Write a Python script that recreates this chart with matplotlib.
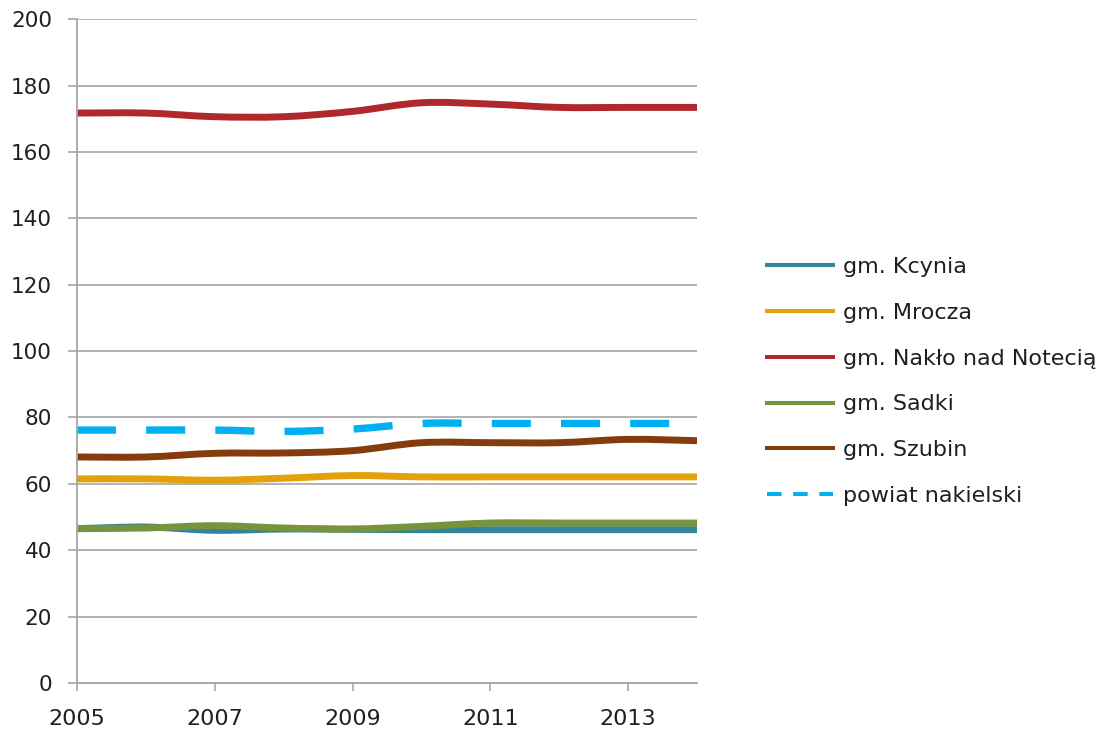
"""Line chart: gminy of powiat nakielski, 2005-2014."""

import matplotlib

matplotlib.use("Agg")
import matplotlib.pyplot as plt
from matplotlib.lines import Line2D
from matplotlib.patches import PathPatch
from matplotlib.path import Path

years = [2005, 2006, 2007, 2008, 2009, 2010, 2011, 2012, 2013, 2014]

kcynia = [46.5, 47.0, 46.0, 46.4, 46.3, 46.2, 46.2, 46.2, 46.2, 46.2]
mrocza = [61.5, 61.5, 61.1, 61.7, 62.5, 62.1, 62.1, 62.1, 62.1, 62.1]
naklo = [171.7, 171.7, 170.6, 170.6, 172.2, 174.8, 174.4, 173.4, 173.4, 173.4]
sadki = [46.5, 46.7, 47.4, 46.7, 46.4, 47.2, 48.2, 48.2, 48.2, 48.2]
szubin = [68.1, 68.1, 69.2, 69.3, 70.0, 72.4, 72.4, 72.4, 73.4, 73.0]
powiat = [76.2, 76.2, 76.2, 75.8, 76.5, 78.2, 78.2, 78.2, 78.2, 78.2]

labels = [
    "gm. Kcynia",
    "gm. Mrocza",
    "gm. Nakło nad Notecią",
    "gm. Sadki",
    "gm. Szubin",
    "powiat nakielski",
]
colors = ["#31849B", "#E3A20C", "#B0282C", "#77933C", "#843C0C", "#00B0F0"]

x_ticks = [2005, 2007, 2009, 2011, 2013]
y_ticks = list(range(0, 201, 20))


def smooth_path(xs, ys):
    """Excel-style smoothed line as cubic Bezier segments."""
    pts = list(zip(xs, ys))
    n = len(pts)
    verts = [pts[0]]
    codes = [Path.MOVETO]
    for i in range(n - 1):
        p0 = pts[max(i - 1, 0)]
        p1 = pts[i]
        p2 = pts[i + 1]
        p3 = pts[min(i + 2, n - 1)]
        c1 = (p1[0] + (p2[0] - p0[0]) / 6, p1[1] + (p2[1] - p0[1]) / 6)
        c2 = (p2[0] - (p3[0] - p1[0]) / 6, p2[1] - (p3[1] - p1[1]) / 6)
        verts += [c1, c2, p2]
        codes += [Path.CURVE4] * 3
    return Path(verts, codes)


plt.rcParams["font.family"] = ["DejaVu Sans"]

fig = plt.figure(figsize=(11.12, 7.35), dpi=100)
ax = fig.add_axes([0.0692, 0.0707, 0.5576, 0.9033])

series = [kcynia, mrocza, naklo, sadki, szubin, powiat]
handles = []
for vals, color, label in zip(series, colors, labels):
    dashed = label.startswith("powiat")
    patch = PathPatch(
        smooth_path(years, vals),
        fill=False,
        edgecolor=color,
        linewidth=5.3 if dashed else 5,
        capstyle="butt",
        joinstyle="round",
        linestyle=(0, (5.3, 4.1)) if dashed else "-",
    )
    ax.add_patch(patch)
    handles.append(
        Line2D(
            [],
            [],
            color=color,
            linewidth=2.9,
            linestyle=(0, (3.6, 2.9)) if dashed else "-",
            label=label,
        )
    )

ax.set_xlim(2005, 2014)
ax.set_ylim(0, 200)
ax.set_xticks(x_ticks)
ax.set_yticks(y_ticks)
ax.grid(axis="y", color="#A6A6A6", linewidth=1.2)
ax.set_axisbelow(True)

for side in ["top", "right"]:
    ax.spines[side].set_visible(False)
for side in ["left", "bottom"]:
    ax.spines[side].set_color("#A6A6A6")
    ax.spines[side].set_linewidth(1.3)

ax.tick_params(axis="y", length=6.5, width=1.2, color="#A6A6A6", labelsize=15.5,
               pad=11.5, labelcolor="#1F1F1F")
ax.tick_params(axis="x", length=5.5, width=1.2, color="#A6A6A6", labelsize=16,
               pad=13, labelcolor="#1F1F1F")

fig.legend(
    handles=handles,
    loc="center left",
    bbox_to_anchor=(0.672, 0.481),
    frameon=False,
    fontsize=16,
    handlelength=2.97,
    handletextpad=0.45,
    labelspacing=1.16,
    labelcolor="#1F1F1F",
)

fig.savefig("out.png", dpi=100)
